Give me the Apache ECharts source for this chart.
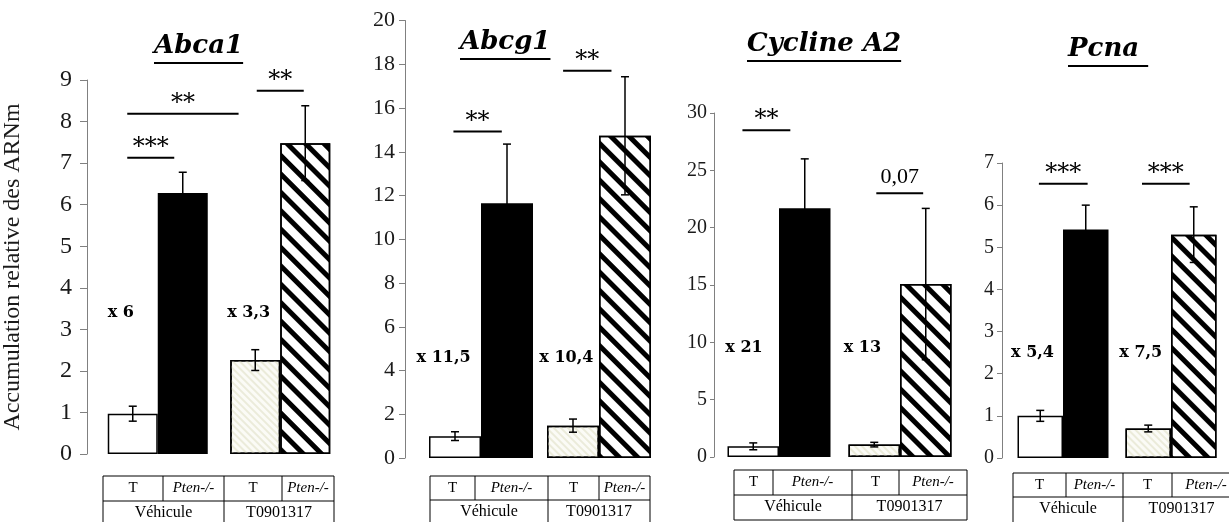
<!DOCTYPE html>
<html><head><meta charset="utf-8">
<script src="https://cdn.jsdelivr.net/npm/echarts@6/dist/echarts.min.js"></script>
<style>html,body{margin:0;padding:0;background:#fff}#c{width:1229px;height:522px}</style>
</head><body><div id="c"></div>
<script>
// ---------- DATA ----------
const genes = ['Abca1', 'Abcg1', 'Cycline A2', 'Pcna '];
const treatments = ['Véhicule', 'T0901317'];
const genotypes = ['T', 'Pten-/-'];
const yAxisTitle = 'Accumulation relative des ARNm';

// bar order: [T véhicule, Pten-/- véhicule, T T0901317, Pten-/- T0901317]
const abca1Values = [0.97, 6.28, 2.26, 7.48];
const abca1Errors = [0.18, 0.50, 0.25, 0.90];
const abcg1Values = [1.00, 11.65, 1.48, 14.73];
const abcg1Errors = [0.20, 2.70, 0.30, 2.70];
const cyclineValues = [0.93, 21.7, 1.08, 15.08];
const cyclineErrors = [0.30, 4.30, 0.20, 6.60];
const pcnaValues = [1.00, 5.42, 0.70, 5.30];
const pcnaErrors = [0.13, 0.58, 0.08, 0.66];

// y scales: [min, max, interval]
const abca1Scale = [0, 9, 1];
const abcg1Scale = [0, 20, 2];
const cyclineScale = [0, 30, 5];
const pcnaScale = [0, 7, 1];

// significance: [from bar slot, to bar slot, level, text]
const abca1Sig = [[-0.11, 0.83, 7.13, '***'], [-0.11, 1.77, 8.19, '**'], [2.03, 2.97, 8.74, '**']];
const abcg1Sig = [[-0.03, 0.9, 14.93, '**'], [1.85, 2.74, 17.7, '**']];
const cyclineSig = [[-0.21, 0.72, 28.5, '**'], [2.04, 2.95, 23.0, '0,07']];
const pcnaSig = [[-0.03, 1.03, 6.51, '***'], [1.9, 2.91, 6.51, '***']];

// fold-change labels: [bar slot, level, text]
const abca1Fold = [[-0.24, 3.39, 'x 6'], [1.91, 3.39, 'x 3,3']];
const abcg1Fold = [[-0.22, 4.57, 'x 11,5'], [1.9, 4.57, 'x 10,4']];
const cyclineFold = [[-0.18, 9.5, 'x 21'], [1.83, 9.5, 'x 13']];
const pcnaFold = [[-0.17, 2.49, 'x 5,4'], [1.88, 2.49, 'x 7,5']];

// ---------- LAYOUT ----------
const panels = [
  {values: abca1Values, errors: abca1Errors, scale: abca1Scale, sig: abca1Sig, fold: abca1Fold},
  {values: abcg1Values, errors: abcg1Errors, scale: abcg1Scale, sig: abcg1Sig, fold: abcg1Fold},
  {values: cyclineValues, errors: cyclineErrors, scale: cyclineScale, sig: cyclineSig, fold: cyclineFold},
  {values: pcnaValues, errors: pcnaErrors, scale: pcnaScale, sig: pcnaSig, fold: pcnaFold}
];
const layout = [
  {left: 95.5, width: 246, top: 80, height: 374, offset: 9.5, barWidth: 50, fs: 24, margin: 15, tick: 7,
   title: [154, 60], table: {cols: [103, 163, 224, 282, 334], rows: [476, 501, 540]}},
  {left: 422, width: 236, top: 20.5, height: 437.5, offset: 17, barWidth: 52, fs: 22, margin: 10, tick: 6,
   title: [460, 56], table: {cols: [430, 475, 548, 599, 650], rows: [476, 500, 540]}},
  {left: 718.5, width: 242, top: 113, height: 344, offset: 4.5, barWidth: 51.5, fs: 20, margin: 7, tick: 4,
   title: [747, 58], table: {cols: [734, 773, 852, 899, 967], rows: [470, 495, 520]}},
  {left: 1009, width: 216, top: 163, height: 295, offset: 7, barWidth: 45.5, fs: 20, margin: 8, tick: 5,
   title: [1068, 63], table: {cols: [1013, 1066, 1123, 1172, 1240], rows: [473, 497, 540]}}
];

const SERIF = '"Liberation Serif", "Times New Roman", serif';
const stripeDecal = {symbol: 'rect', symbolSize: 1, color: '#000', dashArrayX: [1, 0], dashArrayY: [5, 8], rotation: Math.PI / 4};
const lightDecal = {symbol: 'rect', symbolSize: 1, color: '#ebebda', dashArrayX: [1, 0], dashArrayY: [2, 3], rotation: Math.PI / 4};
const barStyles = [
  {color: '#fff'},
  {color: '#000'},
  {color: '#fbfbf6', decal: lightDecal},
  {color: '#fff', decal: stripeDecal}
];

function slotX(api, bw, s) {
  const c0 = api.coord([0, 0])[0], c1 = api.coord([1, 0])[0];
  const c = [c0 - bw / 2, c0 + bw / 2, c1 - bw / 2, c1 + bw / 2];
  if (s <= 0) return c[0] + s * (c[1] - c[0]);
  if (s >= 3) return c[3] + (s - 3) * (c[3] - c[2]);
  const k = Math.floor(s);
  return c[k] + (s - k) * (c[k + 1] - c[k]);
}

const grid = [], xAxis = [], yAxis = [], series = [], graphic = [];
const measure = document.createElement('canvas').getContext('2d');

panels.forEach((p, i) => {
  const L = layout[i];
  grid.push({left: L.left, top: L.top, width: L.width, height: L.height});
  xAxis.push({type: 'category', gridIndex: i, data: treatments, show: false});
  yAxis.push({
    type: 'value', gridIndex: i, min: p.scale[0], max: p.scale[1], interval: p.scale[2], offset: L.offset,
    axisLine: {show: true, lineStyle: {color: '#808080', width: 1}},
    axisTick: {show: true, length: L.tick, lineStyle: {color: '#808080'}},
    axisLabel: {fontSize: L.fs, fontFamily: SERIF, color: '#1a1a1a', margin: L.margin},
    splitLine: {show: false},
    name: i === 0 ? yAxisTitle : '', nameLocation: 'middle', nameGap: 62, nameRotate: 90,
    nameTextStyle: {fontSize: 24, fontFamily: SERIF, color: '#1a1a1a'}
  });
  [0, 1].forEach(g => {
    series.push({
      type: 'bar', name: genotypes[g], xAxisIndex: i, yAxisIndex: i, barWidth: L.barWidth, barGap: '0%',
      silent: true, z: 2,
      itemStyle: {borderColor: '#000', borderWidth: 1.5},
      data: [0, 1].map(t => ({value: p.values[t * 2 + g], itemStyle: barStyles[t * 2 + g]}))
    });
  });
  series.push({
    type: 'custom', xAxisIndex: i, yAxisIndex: i, z: 5, silent: true, clip: false,
    data: p.values.map((v, k) => [k < 2 ? 0 : 1, v, p.errors[k], k]),
    encode: {x: 0, y: 1},
    renderItem: (params, api) => {
      const k = api.value(3), v = api.value(1), e = api.value(2);
      const x = slotX(api, L.barWidth, k);
      const yt = api.coord([0, v + e])[1], yb = api.coord([0, v - e])[1];
      const cap = 4;
      const st = {stroke: '#000', lineWidth: 1.5};
      return {type: 'group', children: [
        {type: 'line', shape: {x1: x, y1: yt, x2: x, y2: yb}, style: st},
        {type: 'line', shape: {x1: x - cap, y1: yt, x2: x + cap, y2: yt}, style: st},
        {type: 'line', shape: {x1: x - cap, y1: yb, x2: x + cap, y2: yb}, style: st}
      ]};
    }
  });
  series.push({
    type: 'custom', xAxisIndex: i, yAxisIndex: i, z: 6, silent: true, clip: false,
    data: p.sig.map(s => [0, s[2]]),
    encode: {x: 0, y: 1},
    renderItem: (params, api) => {
      const s = p.sig[params.dataIndex];
      const x1 = slotX(api, L.barWidth, s[0]), x2 = slotX(api, L.barWidth, s[1]);
      const y = api.coord([0, s[2]])[1];
      const isStar = s[3].indexOf('*') >= 0;
      return {type: 'group', children: [
        {type: 'line', shape: {x1, y1: y, x2, y2: y}, style: {stroke: '#000', lineWidth: 2}},
        {type: 'text', style: {text: s[3], x: (x1 + x2) / 2, y: isStar ? y - 10 : y - 16,
          align: 'center', verticalAlign: 'middle',
          font: isStar ? '24px "DejaVu Serif", serif' : '22px ' + SERIF, fill: '#000'}}
      ]};
    }
  });
  series.push({
    type: 'custom', xAxisIndex: i, yAxisIndex: i, z: 6, silent: true, clip: false,
    data: p.fold.map(f => [0, f[1]]),
    encode: {x: 0, y: 1},
    renderItem: (params, api) => {
      const f = p.fold[params.dataIndex];
      return {type: 'text', style: {text: f[2], x: slotX(api, L.barWidth, f[0]), y: api.coord([0, f[1]])[1],
        align: 'center', verticalAlign: 'middle', font: 'bold 16px "DejaVu Serif", serif', fill: '#000'}};
    }
  });
  const tfont = 'italic bold 26px "DejaVu Serif"';
  measure.font = tfont;
  const tw = measure.measureText(genes[i]).width;
  graphic.push({type: 'text', left: L.title[0], top: L.title[1] - 27, style: {text: genes[i], font: tfont, fill: '#000'}});
  graphic.push({type: 'line', shape: {x1: L.title[0], y1: L.title[1] + 3, x2: L.title[0] + tw, y2: L.title[1] + 3},
    style: {stroke: '#000', lineWidth: 2}});
  const c = L.table.cols, r = L.table.rows;
  const ln = (x1, y1, x2, y2) => graphic.push({type: 'line', shape: {x1, y1, x2, y2}, style: {stroke: '#000', lineWidth: 1}});
  ln(c[0], r[0], c[4], r[0]);
  ln(c[0], r[1], c[4], r[1]);
  ln(c[0], r[2], c[4], r[2]);
  c.forEach((x, j) => ln(x, r[0], x, (j % 2 === 0) ? r[2] : r[1]));
  for (let j = 0; j < 4; j++) {
    graphic.push({type: 'text', x: (c[j] + c[j + 1]) / 2, y: (r[0] + r[1]) / 2,
      style: {text: genotypes[j % 2], align: 'center', verticalAlign: 'middle',
        font: (j % 2 ? 'italic ' : '') + '15px ' + SERIF, fill: '#000'}});
  }
  for (let j = 0; j < 2; j++) {
    graphic.push({type: 'text', x: (c[j * 2] + c[j * 2 + 2]) / 2, y: r[1] + 12,
      style: {text: treatments[j], align: 'center', verticalAlign: 'middle', font: '16px ' + SERIF, fill: '#000'}});
  }
});

const chart = echarts.init(document.getElementById('c'), null, {renderer: 'canvas'});
chart.setOption({animation: false, backgroundColor: '#fff', grid, xAxis, yAxis, series, graphic});
</script></body></html>
